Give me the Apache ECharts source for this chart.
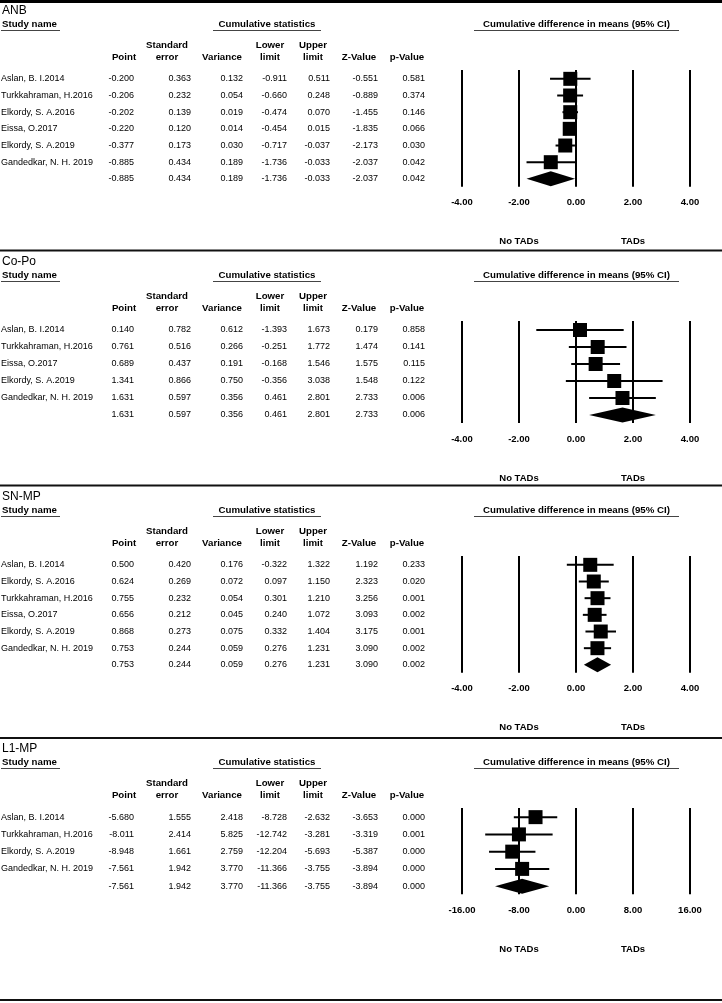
<!DOCTYPE html>
<html><head><meta charset="utf-8">
<script src="https://cdn.jsdelivr.net/npm/echarts@6/dist/echarts.min.js"></script>
<style>html,body{margin:0;padding:0;background:#fff}#c{width:722px;height:1003px}</style>
</head><body><div id="c"></div>
<script>
// ---------- DATA ----------
const panelTitles = ['ANB', 'Co-Po', 'SN-MP', 'L1-MP'];
const colHeaders = [['', 'Point'], ['Standard', 'error'], ['', 'Variance'], ['Lower', 'limit'], ['Upper', 'limit'], ['', 'Z-Value'], ['', 'p-Value']];

// ANB
const studies1 = ['Aslan, B. I.2014', 'Turkkahraman, H.2016', 'Elkordy, S. A.2016', 'Eissa, O.2017', 'Elkordy, S. A.2019', 'Gandedkar, N. H. 2019', ''];
const point1 = [-0.200, -0.206, -0.202, -0.220, -0.377, -0.885, -0.885];
const se1 = [0.363, 0.232, 0.139, 0.120, 0.173, 0.434, 0.434];
const var1 = [0.132, 0.054, 0.019, 0.014, 0.030, 0.189, 0.189];
const lower1 = [-0.911, -0.660, -0.474, -0.454, -0.717, -1.736, -1.736];
const upper1 = [0.511, 0.248, 0.070, 0.015, -0.037, -0.033, -0.033];
const z1 = [-0.551, -0.889, -1.455, -1.835, -2.173, -2.037, -2.037];
const p1 = [0.581, 0.374, 0.146, 0.066, 0.030, 0.042, 0.042];
const ticks1 = [-4, -2, 0, 2, 4];

// Co-Po
const studies2 = ['Aslan, B. I.2014', 'Turkkahraman, H.2016', 'Eissa, O.2017', 'Elkordy, S. A.2019', 'Gandedkar, N. H. 2019', ''];
const point2 = [0.140, 0.761, 0.689, 1.341, 1.631, 1.631];
const se2 = [0.782, 0.516, 0.437, 0.866, 0.597, 0.597];
const var2 = [0.612, 0.266, 0.191, 0.750, 0.356, 0.356];
const lower2 = [-1.393, -0.251, -0.168, -0.356, 0.461, 0.461];
const upper2 = [1.673, 1.772, 1.546, 3.038, 2.801, 2.801];
const z2 = [0.179, 1.474, 1.575, 1.548, 2.733, 2.733];
const p2 = [0.858, 0.141, 0.115, 0.122, 0.006, 0.006];
const ticks2 = [-4, -2, 0, 2, 4];

// SN-MP
const studies3 = ['Aslan, B. I.2014', 'Elkordy, S. A.2016', 'Turkkahraman, H.2016', 'Eissa, O.2017', 'Elkordy, S. A.2019', 'Gandedkar, N. H. 2019', ''];
const point3 = [0.500, 0.624, 0.755, 0.656, 0.868, 0.753, 0.753];
const se3 = [0.420, 0.269, 0.232, 0.212, 0.273, 0.244, 0.244];
const var3 = [0.176, 0.072, 0.054, 0.045, 0.075, 0.059, 0.059];
const lower3 = [-0.322, 0.097, 0.301, 0.240, 0.332, 0.276, 0.276];
const upper3 = [1.322, 1.150, 1.210, 1.072, 1.404, 1.231, 1.231];
const z3 = [1.192, 2.323, 3.256, 3.093, 3.175, 3.090, 3.090];
const p3 = [0.233, 0.020, 0.001, 0.002, 0.001, 0.002, 0.002];
const ticks3 = [-4, -2, 0, 2, 4];

// L1-MP
const studies4 = ['Aslan, B. I.2014', 'Turkkahraman, H.2016', 'Elkordy, S. A.2019', 'Gandedkar, N. H. 2019', ''];
const point4 = [-5.680, -8.011, -8.948, -7.561, -7.561];
const se4 = [1.555, 2.414, 1.661, 1.942, 1.942];
const var4 = [2.418, 5.825, 2.759, 3.770, 3.770];
const lower4 = [-8.728, -12.742, -12.204, -11.366, -11.366];
const upper4 = [-2.632, -3.281, -5.693, -3.755, -3.755];
const z4 = [-3.653, -3.319, -5.387, -3.894, -3.894];
const p4 = [0.000, 0.001, 0.000, 0.000, 0.000];
const ticks4 = [-16, -8, 0, 8, 16];

const panels = [
  {title: panelTitles[0], studies: studies1, point: point1, se: se1, variance: var1, lower: lower1, upper: upper1, z: z1, p: p1, ticks: ticks1},
  {title: panelTitles[1], studies: studies2, point: point2, se: se2, variance: var2, lower: lower2, upper: upper2, z: z2, p: p2, ticks: ticks2},
  {title: panelTitles[2], studies: studies3, point: point3, se: se3, variance: var3, lower: lower3, upper: upper3, z: z3, p: p3, ticks: ticks3},
  {title: panelTitles[3], studies: studies4, point: point4, se: se4, variance: var4, lower: lower4, upper: upper4, z: z4, p: p4, ticks: ticks4}
];

// ---------- LAYOUT ----------
const FONT = '"Liberation Sans", Arial, Helvetica, sans-serif';
const gridTop = [70, 321, 556, 808];
const rowStep = [16.67, 17, 16.67, 17.25];
const dividers = [250.5, 485.5, 738, 1000];
const colRight = [134, 191, 243, 287, 330, 378, 425];
const headCenter = [124, 167, 222, 270, 313, 359, 407];
const nameX = 1;
const plotLeft = 462, plotWidth = 228;
const SQ = 14, DIA = 7.5;

const grid = [], xAxis = [], yAxis = [], series = [], graphic = [];

function txt(text, x, y, font, align, valign) {
  return {type: 'text', silent: true, style: {text, x, y, font, fill: '#000', textAlign: align || 'left', textVerticalAlign: valign || 'middle'}};
}
function hline(x1, x2, y, w, color) {
  return {type: 'line', silent: true, shape: {x1, y1: y, x2, y2: y}, style: {stroke: color || '#000', lineWidth: w}};
}

graphic.push(hline(0, 722, 1.5, 3, '#000'));
dividers.forEach(d => graphic.push(hline(0, 722, d, 2, '#111')));

panels.forEach((pn, k) => {
  const n = pn.point.length;
  const top = gridTop[k];
  const h = n * rowStep[k];
  grid.push({left: plotLeft, top, width: plotWidth, height: h, containLabel: false, outerBoundsMode: 'none'});
  xAxis.push({
    type: 'value', gridIndex: k,
    min: pn.ticks[0], max: pn.ticks[pn.ticks.length - 1], interval: pn.ticks[1] - pn.ticks[0],
    axisLine: {show: false}, axisTick: {show: false},
    splitLine: {show: true, lineStyle: {color: '#000', width: 2}},
    axisLabel: {show: true, showMinLabel: true, showMaxLabel: true, hideOverlap: false,
      formatter: v => v.toFixed(2), color: '#000', fontFamily: FONT, fontSize: 9.5, fontWeight: 'bold', margin: 11}
  });
  yAxis.push({type: 'value', gridIndex: k, inverse: true, min: -0.53, max: n - 0.53, show: false});

  // table text rows (aligned with plot rows through the y axis)
  series.push({
    type: 'custom', xAxisIndex: k, yAxisIndex: k, silent: true, clip: false,
    data: pn.point.map((v, i) => [0, i]),
    renderItem: (params, api) => {
      const i = params.dataIndex;
      const y = api.coord([0, i])[1];
      const vals = [pn.point[i], pn.se[i], pn.variance[i], pn.lower[i], pn.upper[i], pn.z[i], pn.p[i]];
      const children = [{type: 'text', style: {text: pn.studies[i], x: nameX, y, font: '9px ' + FONT, fill: '#000', textAlign: 'left', textVerticalAlign: 'middle'}}];
      vals.forEach((v, j) => children.push({type: 'text', style: {text: v.toFixed(3), x: colRight[j], y, font: '9px ' + FONT, fill: '#000', textAlign: 'right', textVerticalAlign: 'middle'}}));
      return {type: 'group', children};
    }
  });

  // forest marks
  series.push({
    type: 'custom', xAxisIndex: k, yAxisIndex: k, silent: true, clip: false,
    data: pn.point.map((v, i) => [v, pn.lower[i], pn.upper[i], i]),
    encode: {x: [0, 1, 2], y: 3},
    renderItem: (params, api) => {
      const i = api.value(3);
      const c = api.coord([api.value(0), i]);
      const lo = api.coord([api.value(1), i]);
      const hi = api.coord([api.value(2), i]);
      if (pn.studies[i] === '') {
        return {type: 'polygon', shape: {points: [[lo[0], c[1]], [c[0], c[1] - DIA], [hi[0], c[1]], [c[0], c[1] + DIA]]}, style: {fill: '#000'}};
      }
      return {type: 'group', children: [
        {type: 'line', shape: {x1: lo[0], y1: c[1], x2: hi[0], y2: c[1]}, style: {stroke: '#000', lineWidth: 2}},
        {type: 'rect', shape: {x: c[0] - SQ / 2, y: c[1] - SQ / 2, width: SQ, height: SQ}, style: {fill: '#000'}}
      ]};
    }
  });

  // headers
  const bold = 'bold 9.7px ' + FONT;
  graphic.push(txt(pn.title, 2, top - 59, '12px ' + FONT));
  graphic.push(txt('Study name', 2, top - 46, bold));
  graphic.push(hline(1, 60, top - 39.5, 1, '#444'));
  graphic.push(txt('Cumulative statistics', 267, top - 46, bold, 'center'));
  graphic.push(hline(213, 321, top - 39.5, 1, '#444'));
  graphic.push(txt('Cumulative difference in means (95% CI)', 576.5, top - 46, bold, 'center'));
  graphic.push(hline(474, 679, top - 39.5, 1, '#444'));
  colHeaders.forEach((hd, j) => {
    if (hd[0]) graphic.push(txt(hd[0], headCenter[j], top - 25, bold, 'center'));
    graphic.push(txt(hd[1], headCenter[j], top - 13, bold, 'center'));
  });
});

const chart = echarts.init(document.getElementById('c'), null, {renderer: 'canvas'});
chart.setOption({animation: false, backgroundColor: '#fff', grid, xAxis, yAxis, series});

// direction labels under the 2nd and 4th ticks of each axis
panels.forEach((pn, k) => {
  const bottom = gridTop[k] + pn.point.length * rowStep[k];
  const xa = chart.convertToPixel({xAxisIndex: k}, pn.ticks[1]);
  const xb = chart.convertToPixel({xAxisIndex: k}, pn.ticks[3]);
  graphic.push(txt('No TADs', xa, bottom + 55, 'bold 9.5px ' + FONT, 'center'));
  graphic.push(txt('TADs', xb, bottom + 55, 'bold 9.5px ' + FONT, 'center'));
});
chart.setOption({graphic});
</script>
</body></html>
